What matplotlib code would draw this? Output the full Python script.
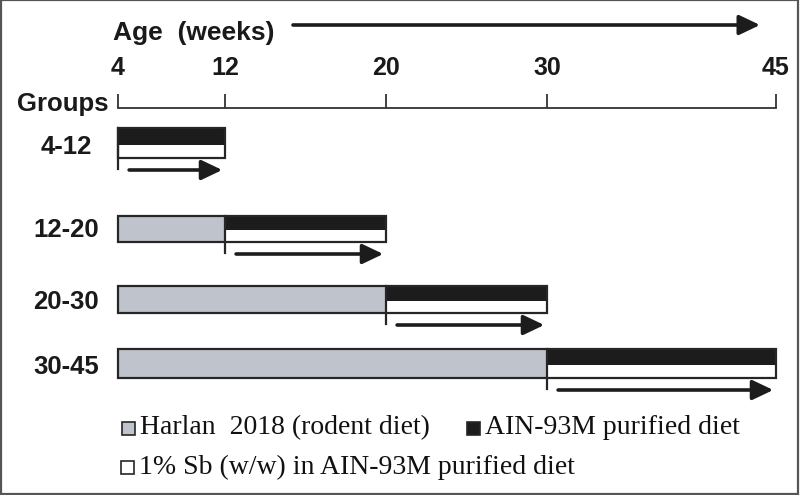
"""Feeding schedule diagram: diet phases per age group."""
import numpy as np
import matplotlib
matplotlib.use("Agg")
import matplotlib.pyplot as plt
from matplotlib.patches import Rectangle
from matplotlib.transforms import blended_transform_factory


# Data: one row per age group (weeks of age).
GROUPS = ["4-12", "12-20", "20-30", "30-45"]
START_WEEK = [4, 4, 4, 4]
SWITCH_WEEK = [4, 12, 20, 30]   # start of the AIN-93M / Sb period
END_WEEK = [12, 20, 30, 45]
AGE_TICKS = [4, 12, 20, 30, 45]
LEGEND_LABELS = [
    "Harlan  2018 (rodent diet)",
    "AIN-93M purified diet",
    "1% Sb (w/w) in AIN-93M purified diet",
]

# Layout: the age axis in the original is not to scale, so each tick
# has its own pixel column; the scale interpolates between them.
TICK_PX = [118, 225, 386, 547, 776]
W, H = 800, 495

# Row geometry in pixel rows (top of bar, bar height, label row).
ROW_TOP = [128, 216, 286, 349]
ROW_H = [30, 26, 27, 29]
LABEL_Y = [147, 230, 302, 367]
BLACK_FRAC = 0.55   # share of the split bar taken by the black strip

GRAY = "#bfc3cb"
DARK = "#1c1c1c"
EDGE = "#262626"
BOLD = dict(family="Liberation Sans", fontweight="bold", color="#1a1a1a")


def _extended():
    left_slope = (TICK_PX[1] - TICK_PX[0]) / (AGE_TICKS[1] - AGE_TICKS[0])
    right_slope = (TICK_PX[-1] - TICK_PX[-2]) / (AGE_TICKS[-1] - AGE_TICKS[-2])
    ws = [AGE_TICKS[0] - 100] + AGE_TICKS + [AGE_TICKS[-1] + 100]
    ps = [TICK_PX[0] - 100 * left_slope] + TICK_PX + [TICK_PX[-1] + 100 * right_slope]
    return np.array(ws, float), np.array(ps, float)


EXT_W, EXT_PX = _extended()


def week_to_px(w):
    return np.interp(np.asarray(w, float), EXT_W, EXT_PX)


def px_to_week(p):
    return np.interp(np.asarray(p, float), EXT_PX, EXT_W)


fig = plt.figure(figsize=(W / 100, H / 100), dpi=100)
ax = fig.add_axes([0, 0, 1, 1])
ax.set_xscale("function", functions=(week_to_px, px_to_week))
ax.set_xlim(float(px_to_week(0)), float(px_to_week(W)))
ax.set_ylim(H, 0)
ax.axis("off")

frac = blended_transform_factory(ax.transAxes, ax.transData)
ARROW = dict(arrowstyle="-|>,head_length=1.05,head_width=0.5",
             mutation_scale=12, lw=2.6, color=DARK)

# Title row with the long age arrow.
ax.text(113 / W, 33, "Age  (weeks)", transform=frac, ha="left", va="center",
        fontsize=19, **BOLD)
ax.annotate("", xy=(760 / W, 25), xytext=(293 / W, 25),
            xycoords=frac, textcoords=frac,
            arrowprops=dict(ARROW, shrinkA=0, shrinkB=0))

# Age axis.
ax.plot([AGE_TICKS[0], AGE_TICKS[-1]], [108, 108], color="#333333", lw=1.3)
ax.vlines(AGE_TICKS, 94, 108, color="#333333", lw=1.3)
for w in AGE_TICKS:
    ax.text(w, 68, str(w), ha="center", va="center", fontsize=18, **BOLD)
ax.text(17 / W, 104, "Groups", transform=frac, ha="left", va="center",
        fontsize=18.5, **BOLD)

# One bar per group: gray chow phase, then black/white split phase.
for i, g in enumerate(GROUPS):
    top, h = ROW_TOP[i], ROW_H[i]
    s, m, e = START_WEEK[i], SWITCH_WEEK[i], END_WEEK[i]
    hb = h * BLACK_FRAC
    if m > s:
        ax.barh(top + h / 2, m - s, left=s, height=h, color=GRAY, lw=0)
    ax.barh(top + hb + (h - hb) / 2, e - m, left=m, height=h - hb,
            color="white", lw=0)
    ax.barh(top + hb / 2, e - m, left=m, height=hb, color=DARK, lw=0)
    ax.barh(top + h / 2, e - s, left=s, height=h, fill=False,
            edgecolor=EDGE, lw=1.6)
    ax.plot([m, m], [top, top + h + 11], color=EDGE, lw=1.6)
    ax.annotate("", xy=(e, top + h + 12), xytext=(m, top + h + 12),
                arrowprops=dict(ARROW, shrinkA=8, shrinkB=2))
    ax.text(66 / W, LABEL_Y[i], g, transform=frac, ha="center", va="center",
            fontsize=18.5, **BOLD)

# Legend drawn by hand (two rows, uneven).
legend_items = [
    (GRAY, 122, 428, LEGEND_LABELS[0]),
    (DARK, 467, 428, LEGEND_LABELS[1]),
    ("white", 121, 467, LEGEND_LABELS[2]),
]
for face, x, y, label in legend_items:
    ax.add_patch(Rectangle((x / W, y - 6.5), 13 / W, 13, transform=frac,
                           facecolor=face, edgecolor=EDGE, lw=1.2))
    ax.text((x + 18) / W, y, label, transform=frac, ha="left", va="center",
            fontsize=20, family="Liberation Serif", color="#111111")

# Thin frame around the whole picture.
fig.add_artist(Rectangle((0.001, 0.003), 0.996, 0.996, transform=fig.transFigure,
                         fill=False, edgecolor="#555555", lw=1.6))

fig.savefig("out.png", dpi=100)
